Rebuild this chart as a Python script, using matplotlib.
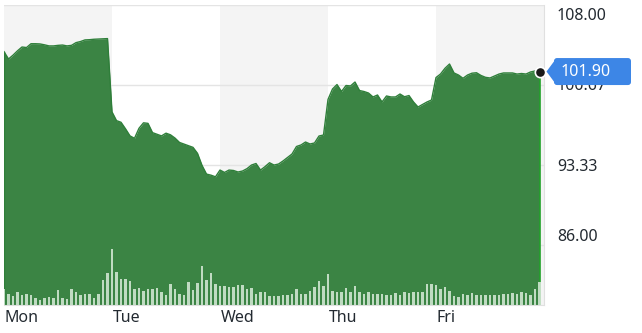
import matplotlib
matplotlib.use("Agg")
import matplotlib.pyplot as plt
import matplotlib.transforms as mtransforms
from matplotlib.patches import FancyBboxPatch, Polygon
import numpy as np

plt.rcParams['font.family'] = ['Noto Sans', 'DejaVu Sans']

days = ["Mon", "Tue", "Wed", "Thu", "Fri"]
points_per_day = 24

price_mon = [103.72, 103.05, 103.4, 103.8, 104.15, 104.1, 104.45, 104.45, 104.43, 104.35,
             104.25, 104.25, 104.3, 104.33, 104.25, 104.3, 104.55, 104.65, 104.8, 104.82,
             104.86, 104.88, 104.9, 104.92]
price_tue = [98.2, 97.4, 97.25, 96.65, 96.0, 95.78, 96.7, 97.2, 97.15, 96.3,
             96.15, 96.0, 96.25, 96.1, 95.8, 95.4, 95.25, 95.1, 94.95, 94.4,
             93.3, 92.5, 92.4, 92.25]
price_wed = [92.87, 92.65, 92.87, 92.83, 92.69, 92.78, 93.0, 93.33, 93.47, 92.87,
             93.18, 93.54, 93.33, 93.42, 93.7, 94.02, 94.34, 95.03, 95.17, 95.44,
             95.26, 95.35, 95.99, 96.08]
price_thu = [99.34, 100.3, 100.71, 100.07, 100.62, 100.58, 100.94, 100.16, 100.07, 99.93,
             99.57, 99.75, 99.11, 99.66, 99.57, 99.57, 99.84, 99.59, 99.70, 99.11,
             98.65, 98.88, 99.11, 99.29]
price_fri = [101.35, 101.67, 102.2, 102.59, 101.77, 101.58, 101.28, 101.58, 101.75, 101.79,
             101.54, 101.37, 101.31, 101.49, 101.67, 101.77, 101.77, 101.77, 101.67, 101.72,
             101.67, 101.86, 101.95, 101.90]

vol_mon = [46, 33, 26, 38, 28, 31, 28, 20, 15, 21, 22, 20, 43, 20, 18, 45, 36, 28, 31, 33, 21, 31, 71, 92]
vol_tue = [160, 96, 75, 75, 70, 46, 50, 41, 46, 46, 50, 36, 30, 60, 46, 33, 30, 65, 43, 62, 113, 71, 93, 59]
vol_wed = [55, 55, 53, 51, 58, 58, 46, 50, 32, 36, 38, 26, 25, 25, 28, 30, 33, 45, 33, 33, 41, 51, 68, 55]
vol_thu = [89, 41, 36, 36, 48, 36, 55, 36, 33, 36, 31, 31, 31, 28, 28, 35, 30, 36, 35, 38, 36, 38, 61, 60]
vol_fri = [58, 46, 51, 41, 25, 23, 33, 28, 35, 28, 28, 28, 28, 28, 28, 31, 33, 35, 33, 38, 35, 30, 45, 66]

grid_values = [108.00, 100.67, 93.33, 86.00]
tick_labels = ["108.00", "100.67", "93.33", "86.00"]
label_y = [106.99, 100.57, 93.15, 86.73]
last_price_label = "101.90"

prices = np.array(price_mon + price_tue + price_wed + price_thu + price_fri)
volumes = np.array(vol_mon + vol_tue + vol_wed + vol_thu + vol_fri)
x = np.arange(len(prices))

W, H = 642, 333
fig = plt.figure(figsize=(W / 100, H / 100), dpi=100)
ax = fig.add_axes([4 / W, 28 / H, 540 / W, 300 / H])
ax.set_xlim(0, 120)
ax.set_ylim(80.5, 108.0)

# alternating day shading
for d in range(len(days)):
    if d % 2 == 0:
        ax.axvspan(d * points_per_day, (d + 1) * points_per_day, color="#f4f4f4", lw=0, zorder=0)

for g in grid_values:
    ax.axhline(g, color="#e4e4e4", lw=1, zorder=1)

green = "#3b8444"
ax.fill_between(x, prices, 80.5, color=green, lw=0, zorder=2)
ax.plot(x, prices, color="#2f7f3a", lw=1, zorder=3)
ax.plot([x[0], x[0]], [80.5, prices[0]], color="#2f7f3a", lw=1, zorder=3)
ax.plot([x[-1], x[-1]], [80.5, prices[-1]], color="#22a22a", lw=1.2, zorder=3)

ax.set_xticks([])
ax.set_yticks([])
for s in ["left", "top"]:
    ax.spines[s].set_visible(False)
ax.spines["right"].set_color("#e0e0e0")
ax.spines["bottom"].set_color("#e0e0e0")

# day labels
trans_xd = mtransforms.blended_transform_factory(ax.transData, ax.transAxes)
for d, name in enumerate(days):
    ax.text(d * points_per_day + 0.1, -0.045, name, transform=trans_xd, ha="left", va="center",
            fontsize=11.5, color="#232a31")

# y labels
trans_ay = mtransforms.blended_transform_factory(ax.transAxes, ax.transData)
for yv, lab in zip(label_y, tick_labels):
    ax.text(1.024, yv, lab, transform=trans_ay, ha="left", va="center", fontsize=11.5,
            color="#232a31", clip_on=False)

# volume bars
ax2 = ax.twinx()
ax2.set_ylim(0, 861)
ax2.bar(x, volumes, width=0.55, color="#cfe5d1", alpha=0.9, lw=0, zorder=4)
ax2.set_yticks([])
ax2.set_xlim(0, 120)
for s in ax2.spines.values():
    s.set_visible(False)

# last point dot
ax2.plot([x[-1]], [0], alpha=0)
ax.scatter([x[-1]], [prices[-1]], s=55, color="#1a1a1a", edgecolor="white", lw=1.2,
           zorder=10, clip_on=False)

# price flag (figure pixel coordinates)
py = ax.transData.transform((x[-1], prices[-1]))[1]
tip_x = 546.5
box = FancyBboxPatch((554, py - 13.5), 77, 27, boxstyle="round,pad=0,rounding_size=3",
                     transform=None, facecolor="#3d86e6", edgecolor="none", zorder=20)
fig.patches.append(box)
tri = Polygon([[tip_x, py], [555, py + 11.5], [555, py - 11.5]], closed=True, transform=None,
              facecolor="#3d86e6", edgecolor="none", zorder=20)
fig.patches.append(tri)
fig.text(561 / W, py / H, last_price_label, ha="left", va="center", fontsize=11.5,
         color="white", zorder=21)

fig.savefig("out.png", dpi=100)
